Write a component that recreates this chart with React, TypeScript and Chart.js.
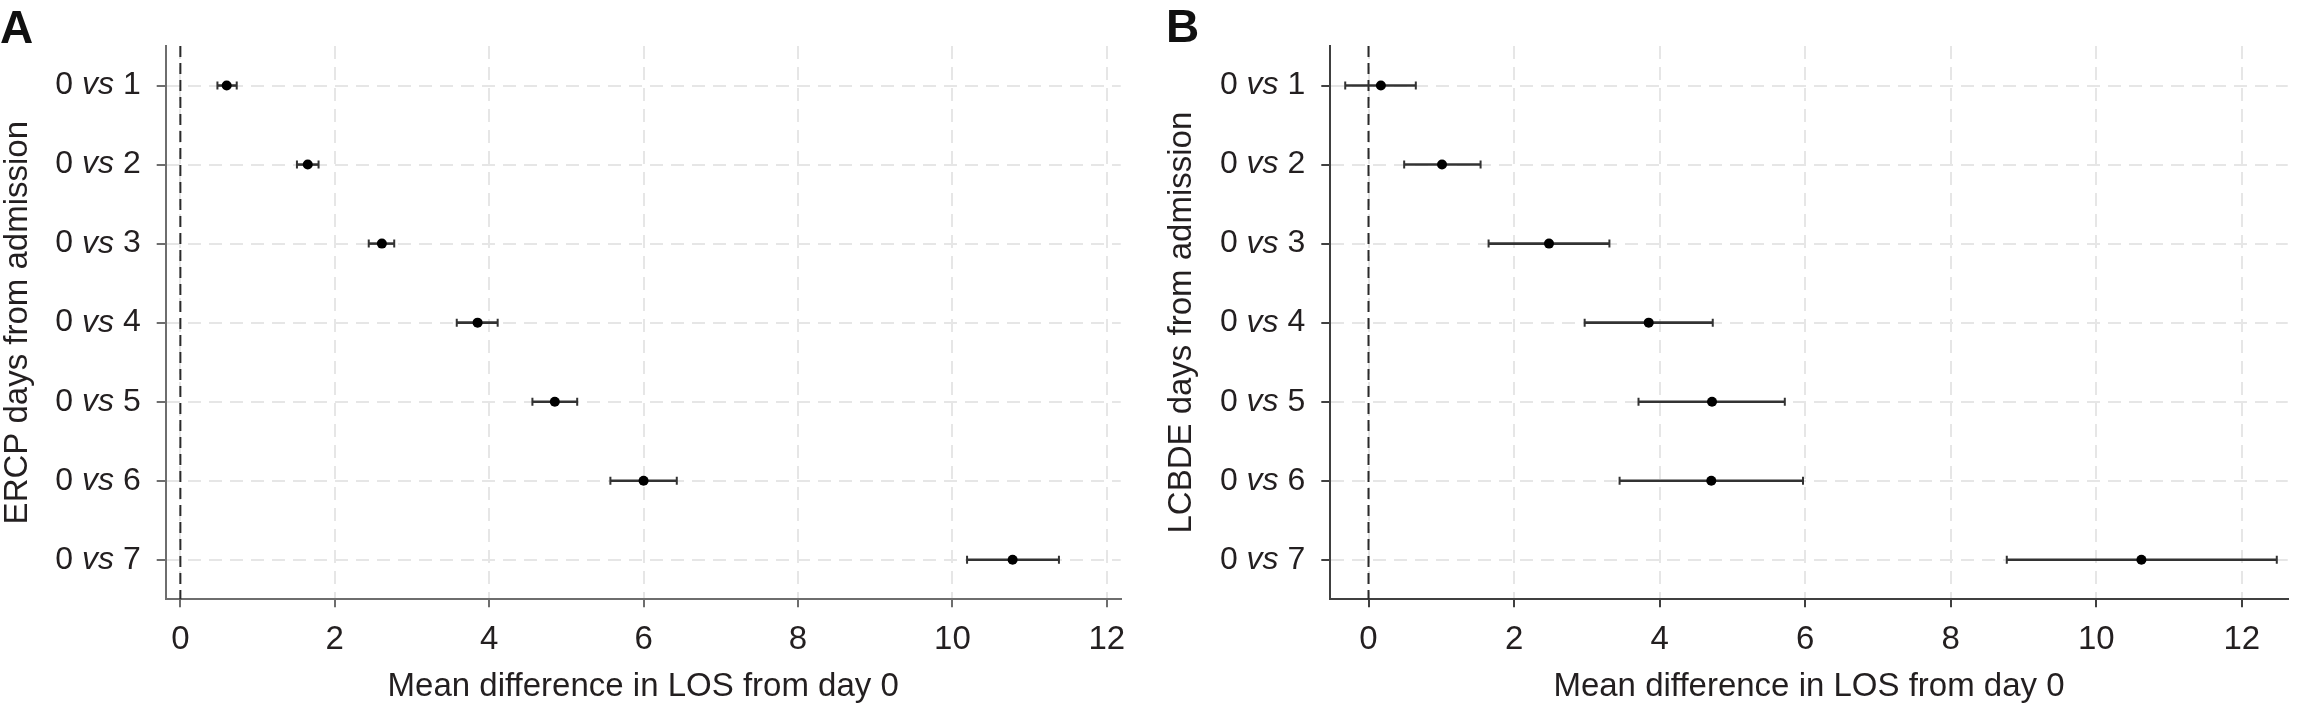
import React, { useEffect, useRef } from "react";
import { Chart, registerables } from "chart.js";

Chart.register(...registerables);

// ---------- data ----------
const rowValues = [1, 2, 3, 4, 5, 6, 7];
const rowLabels = ["0 vs 1", "0 vs 2", "0 vs 3", "0 vs 4", "0 vs 5", "0 vs 6", "0 vs 7"];
const xTickValues = [0, 2, 4, 6, 8, 10, 12];
const xTickLabels = ["0", "2", "4", "6", "8", "10", "12"];

const ercpMean = [0.6, 1.65, 2.61, 3.85, 4.85, 6.0, 10.78];
const ercpLow = [0.48, 1.51, 2.44, 3.58, 4.56, 5.57, 10.19];
const ercpHigh = [0.73, 1.79, 2.77, 4.11, 5.14, 6.43, 11.38];

const lcbdeMean = [0.17, 1.01, 2.48, 3.85, 4.72, 4.71, 10.62];
const lcbdeLow = [-0.32, 0.49, 1.65, 2.97, 3.71, 3.45, 8.77];
const lcbdeHigh = [0.65, 1.54, 3.31, 4.73, 5.72, 5.97, 12.48];

const xTitle = "Mean difference in LOS from day 0";
const ercpTitle = "ERCP days from admission";
const lcbdeTitle = "LCBDE days from admission";

// ---------- styling ----------
const FONT = "'Liberation Sans', Arial, sans-serif";
const TEXT = "#231f20";
const GRID = "#e6e6e6";
const W = 1157;
const H = 705;

type PanelCfg = {
  left: number;
  letter: string;
  letterX: number;
  letterY: number;
  yTitle: string;
  yTitlePad: number;
  mean: number[];
  low: number[];
  high: number[];
  xMin: number;
  xMax: number;
  yAxisWidth: number;
  padRight: number;
  axisColor: string;
};

const panels: PanelCfg[] = [
  {
    left: 0,
    letter: "A",
    letterX: 0,
    letterY: 43,
    yTitle: ercpTitle,
    yTitlePad: 1,
    mean: ercpMean,
    low: ercpLow,
    high: ercpHigh,
    xMin: -0.19,
    xMax: 12.18,
    yAxisWidth: 165.7,
    padRight: 36.3,
    axisColor: "#6e6e6e",
  },
  {
    left: 1157,
    letter: "B",
    letterX: 9,
    letterY: 42,
    yTitle: lcbdeTitle,
    yTitlePad: 8,
    mean: lcbdeMean,
    low: lcbdeLow,
    high: lcbdeHigh,
    xMin: -0.525,
    xMax: 12.63,
    yAxisWidth: 173.3,
    padRight: 26.3,
    axisColor: "#404040",
  },
];

function makePlugin(cfg: PanelCfg) {
  return {
    id: "forest-" + cfg.letter,
    beforeDatasetsDraw(chart: any) {
      const { ctx, chartArea } = chart;
      const xs = chart.scales.x;
      const ys = chart.scales.y;
      ctx.save();
      // reference line at 0
      const x0 = xs.getPixelForValue(0);
      ctx.strokeStyle = "#2a2a2a";
      ctx.lineWidth = 2;
      ctx.setLineDash([11, 6]);
      ctx.beginPath();
      ctx.moveTo(x0, chartArea.top);
      ctx.lineTo(x0, chartArea.bottom);
      ctx.stroke();
      ctx.setLineDash([]);
      // error bars
      ctx.strokeStyle = "#333333";
      rowValues.forEach((r, i) => {
        const py = ys.getPixelForValue(r);
        const pl = xs.getPixelForValue(cfg.low[i]);
        const ph = xs.getPixelForValue(cfg.high[i]);
        ctx.lineWidth = 2.6;
        ctx.beginPath();
        ctx.moveTo(pl, py);
        ctx.lineTo(ph, py);
        ctx.stroke();
        ctx.lineWidth = 2;
        ctx.beginPath();
        ctx.moveTo(pl, py - 4);
        ctx.lineTo(pl, py + 4);
        ctx.moveTo(ph, py - 4);
        ctx.lineTo(ph, py + 4);
        ctx.stroke();
      });
      ctx.restore();
    },
    afterDraw(chart: any) {
      const { ctx, chartArea } = chart;
      const ys = chart.scales.y;
      ctx.save();
      ctx.fillStyle = TEXT;
      ctx.textBaseline = "middle";
      ctx.textAlign = "left";
      const normal = `32px ${FONT}`;
      const italic = `italic 32px ${FONT}`;
      const xr = chartArea.left - 25;
      rowValues.forEach((r, i) => {
        const parts = rowLabels[i].split(" vs ");
        const a = parts[0] + " ";
        const b = "vs";
        const c = " " + parts[1];
        ctx.font = normal;
        const wa = ctx.measureText(a).width;
        const wc = ctx.measureText(c).width;
        ctx.font = italic;
        const wb = ctx.measureText(b).width;
        const py = ys.getPixelForValue(r);
        let x = xr - (wa + wb + wc);
        ctx.font = normal;
        ctx.fillText(a, x, py);
        x += wa;
        ctx.font = italic;
        ctx.fillText(b, x, py);
        x += wb;
        ctx.font = normal;
        ctx.fillText(c, x, py);
      });
      // panel letter
      ctx.font = `bold 46px ${FONT}`;
      ctx.textBaseline = "alphabetic";
      ctx.fillStyle = "#111";
      ctx.fillText(cfg.letter, cfg.letterX, cfg.letterY);
      ctx.restore();
    },
  };
}

function Panel({ cfg }: { cfg: PanelCfg }) {
  const ref = useRef<HTMLCanvasElement | null>(null);
  useEffect(() => {
    if (!ref.current) return;
    const chart = new Chart(ref.current, {
      type: "scatter",
      data: {
        datasets: [
          {
            data: rowValues.map((r, i) => ({ x: cfg.mean[i], y: r })),
            pointRadius: 5,
            pointHoverRadius: 5,
            pointBackgroundColor: "#000",
            pointBorderColor: "#000",
            pointBorderWidth: 0,
            showLine: false,
          },
        ],
      },
      options: {
        responsive: false,
        animation: false,
        events: [],
        layout: { padding: { left: 0, top: 46, right: cfg.padRight, bottom: 0 } },
        plugins: { legend: { display: false }, tooltip: { enabled: false } },
        scales: {
          x: {
            type: "linear",
            min: cfg.xMin,
            max: cfg.xMax,
            afterBuildTicks: (s: any) => {
              s.ticks = xTickValues.map((v) => ({ value: v }));
            },
            afterFit: (s: any) => {
              s.height = H - 599.3;
            },
            ticks: {
              color: TEXT,
              font: { family: FONT, size: 33 },
              padding: 13,
              maxRotation: 0,
              autoSkip: false,
              callback: (_v: any, i: number) => xTickLabels[i],
            },
            grid: {
              color: GRID,
              lineWidth: 2,
              tickColor: cfg.axisColor,
              tickLength: 8,
              tickWidth: 2,
              tickBorderDash: [],
            },
            border: { color: cfg.axisColor, width: 2, dash: [13, 8] },
            title: {
              display: true,
              text: xTitle,
              color: TEXT,
              font: { family: FONT, size: 33, lineHeight: 1.1 },
              padding: { top: 0, bottom: 0 },
            },
          },
          y: {
            type: "linear",
            min: 0.5,
            max: 7.5,
            reverse: true,
            afterBuildTicks: (s: any) => {
              s.ticks = rowValues.map((v) => ({ value: v }));
            },
            afterFit: (s: any) => {
              s.width = cfg.yAxisWidth;
            },
            ticks: { display: false },
            grid: {
              color: GRID,
              lineWidth: 2,
              tickColor: cfg.axisColor,
              tickLength: 9,
              tickWidth: 2,
              tickBorderDash: [],
            },
            border: { color: cfg.axisColor, width: 2, dash: [13, 8] },
            title: {
              display: true,
              text: cfg.yTitle,
              color: TEXT,
              font: { family: FONT, size: 33, lineHeight: 1.0 },
              padding: { top: cfg.yTitlePad, bottom: 0 },
            },
          },
        },
      } as any,
      plugins: [makePlugin(cfg)],
    });
    return () => chart.destroy();
  }, [cfg]);
  return (
    <canvas
      ref={ref}
      width={W}
      height={H}
      style={{ position: "absolute", left: cfg.left, top: 0, width: W, height: H }}
    />
  );
}

export default function App() {
  return (
    <div
      style={{
        position: "fixed",
        left: 0,
        top: 0,
        width: 2314,
        height: 705,
        background: "#fff",
        overflow: "hidden",
      }}
    >
      {panels.map((p) => (
        <Panel key={p.letter} cfg={p} />
      ))}
    </div>
  );
}
